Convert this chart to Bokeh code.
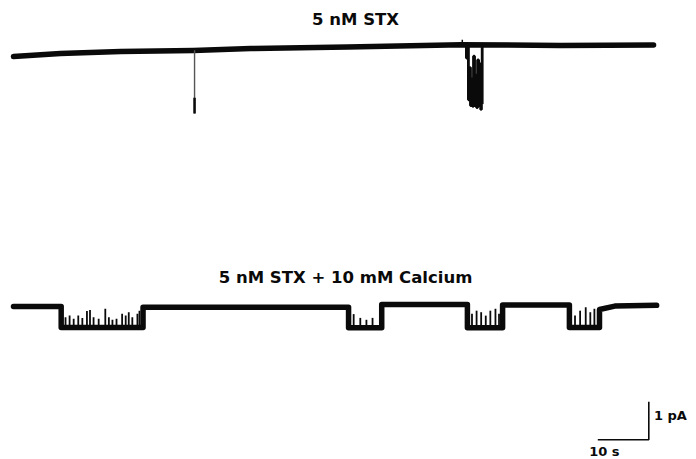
import numpy as np
from bokeh.plotting import figure
from bokeh.models import Range1d, Label
from bokeh.embed import file_html
from bokeh.resources import INLINE

# ---------------- data (time in s, current in pA) ----------------
top_title = "5 nM STX"
bottom_title = "5 nM STX + 10 mM Calcium"

# top record: slow baseline drift
top_base_t = [0.0, 9.2, 21.0, 35.3, 46.5, 65.5, 87.8, 107.3, 125.5]
top_base_i = [0.08, 0.16, 0.21, 0.24, 0.29, 0.33, 0.39, 0.37, 0.38]
# single brief opening
top_spike_t = [35.5]
top_spike_i = [-1.66]
# small upward transient
top_up_t = [88.0]
top_up_i = [0.13]
# burst of openings (relative to baseline)
top_burst_t = [88.8, 89.0, 89.2, 89.4, 89.6, 89.8, 90.0, 90.2, 90.4, 90.6, 90.8,
               91.0, 91.2, 91.4, 91.6, 91.75]
top_burst_i = [-0.35, -0.05, -1.45, -0.6, -1.6, -0.9, -1.62, -0.3, -1.6,
               -0.8, -1.65, -0.4, -1.6, -0.5, -1.7, -1.55]
top_burst_end = 91.9

# bottom record: open periods
block_start = [9.35, 65.7, 89.0, 109.0]
block_end = [25.4, 72.2, 95.9, 114.9]
block_level = [-0.55, -0.56, -0.56, -0.55]
# baseline level before/between/after blocks
base_level = [0.0, -0.02, 0.05, 0.04, -0.08]
bottom_end_t = 126.1
bottom_end_i = 0.03
# brief closings during the openings
flick_t = [10.2, 11.0, 11.8, 12.7, 13.5, 14.4, 15.0, 15.7, 16.7, 18.0, 18.7,
           19.4, 20.2, 21.3, 22.0, 22.6, 23.3, 24.3, 24.7,
           66.7, 68.0, 69.2, 70.4,
           89.9, 90.8, 91.7, 92.6, 93.5, 94.5, 95.2,
           110.1, 111.1, 112.2, 113.1, 113.9]
flick_i = [-0.28, -0.24, -0.32, -0.24, -0.30, -0.12, -0.09, -0.28, -0.32, -0.06, -0.28,
           -0.35, -0.32, -0.19, -0.24, -0.15, -0.28, -0.19, -0.11,
           -0.2, -0.3, -0.35, -0.3,
           -0.19, -0.11, -0.15, -0.24, -0.11, -0.06, -0.19,
           -0.24, -0.11, -0.02, -0.15, -0.06]

# scale bar
scale_t = 10
scale_i = 1
scale_t_label = "10 s"
scale_i_label = "1 pA"

# ---------------- layout ----------------
top_offset = 6.5
px_per_s = 5.1
px_per_pA = 38.0
W, H = 696, 459
x0_px, y0_px = 13.0, 306.0

p = figure(width=W, height=H, output_backend="svg", toolbar_location=None,
           x_range=Range1d(-x0_px / px_per_s, (W - x0_px) / px_per_s),
           y_range=Range1d(-(H - y0_px) / px_per_pA, y0_px / px_per_pA),
           x_axis_type=None, y_axis_type=None, min_border=0,
           outline_line_color=None, background_fill_color="white",
           border_fill_color="white")

ink = "#0a0a0a"

# top trace
tb_t = np.array(top_base_t)
tb_i = np.array(top_base_i) + top_offset
p.line(tb_t, tb_i, line_color=ink, line_width=5.5, line_cap="round", line_join="round")

def top_base(t):
    return float(np.interp(t, tb_t, tb_i))

for t, d in zip(top_spike_t, top_spike_i):
    b = top_base(t)
    p.segment(x0=[t], y0=[b], x1=[t], y1=[b + d], line_color="#555", line_width=1.4)
    p.segment(x0=[t], y0=[b + d * 0.75], x1=[t], y1=[b + d], line_color=ink, line_width=2.5)

for t, d in zip(top_up_t, top_up_i):
    b = top_base(t)
    p.segment(x0=[t], y0=[b], x1=[t], y1=[b + d], line_color=ink, line_width=1.5)

bx, by = [top_burst_t[0]], [top_base(top_burst_t[0])]
prev = by[0]
for t, d in zip(top_burst_t, top_burst_i):
    v = top_base(t) + d
    bx += [t, t]
    by += [prev, v]
    prev = v
bx += [top_burst_end, top_burst_end]
by += [prev, top_base(top_burst_end)]
p.line(bx, by, line_color=ink, line_width=2.8)

# bottom trace
xs, ys = [0.0], [base_level[0]]
for k in range(len(block_start)):
    xs += [block_start[k], block_start[k], block_end[k], block_end[k]]
    ys += [base_level[k], block_level[k], block_level[k], base_level[k + 1]]
xs += [block_end[-1] + 3.0, bottom_end_t]
ys += [base_level[-1] + 0.09, bottom_end_i]
p.line(xs, ys, line_color=ink, line_width=5.5, line_cap="round", line_join="round")

lvl_for = []
for t in flick_t:
    lv = 0.0
    for s, e, l in zip(block_start, block_end, block_level):
        if s <= t <= e:
            lv = l
    lvl_for.append(lv)
p.segment(x0=flick_t, y0=lvl_for, x1=flick_t, y1=flick_i, line_color=ink, line_width=1.8)

# scale bar
sx = (648.3 - x0_px) / px_per_s
sy = -(439.3 - y0_px) / px_per_pA
p.line([sx - scale_t, sx, sx], [sy, sy, sy + scale_i], line_color=ink, line_width=1.6)

font = "DejaVu Sans"
p.add_layout(Label(x=(355 - x0_px) / px_per_s, y=(y0_px - 18.5) / px_per_pA, text=top_title,
                   text_align="center", text_baseline="middle", text_font=font,
                   text_font_style="bold", text_font_size="16.5px", text_color=ink))
p.add_layout(Label(x=(345 - x0_px) / px_per_s, y=(y0_px - 276.5) / px_per_pA, text=bottom_title,
                   text_align="center", text_baseline="middle", text_font=font,
                   text_font_style="bold", text_font_size="16.5px", text_color=ink))
p.add_layout(Label(x=sx + 1.0, y=sy + scale_i * 0.63, text=scale_i_label,
                   text_align="left", text_baseline="middle", text_font=font,
                   text_font_style="bold", text_font_size="13px", text_color=ink))
p.add_layout(Label(x=sx - scale_t * 0.87, y=sy - 0.32, text=scale_t_label,
                   text_align="center", text_baseline="middle", text_font=font,
                   text_font_style="bold", text_font_size="13px", text_color=ink))

open("out.html", "w").write(file_html(p, INLINE))
